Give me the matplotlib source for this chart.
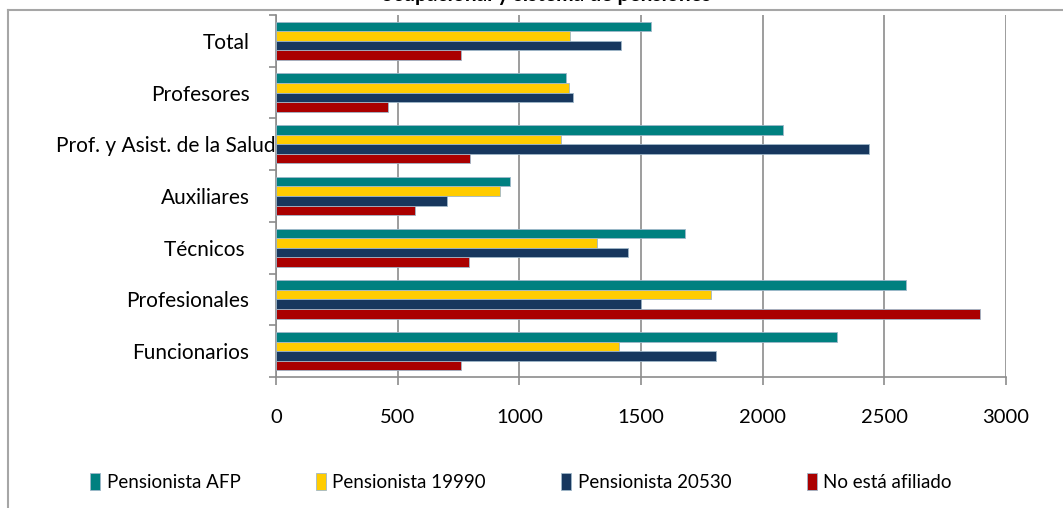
import matplotlib.pyplot as plt
import matplotlib.transforms as mtransforms
from matplotlib.lines import Line2D
import numpy as np

plt.rcParams['font.family'] = ['Lato', 'DejaVu Sans']

categorias = ['Funcionarios', 'Profesionales', 'Técnicos ', 'Auxiliares',
              'Prof. y Asist. de la Salud', 'Profesores', 'Total']
afp = [2305, 2590, 1680, 962, 2082, 1193, 1540]
p19990 = [1410, 1789, 1320, 920, 1172, 1203, 1208]
p20530 = [1810, 1498, 1448, 703, 2435, 1222, 1419]
no_afiliado = [759, 2895, 793, 573, 799, 460, 759]

series = [('Pensionista AFP', afp, '#008080'),
          ('Pensionista 19990', p19990, '#FFCC00'),
          ('Pensionista 20530', p20530, '#17375E'),
          ('No está afiliado', no_afiliado, '#AA0000')]

fig = plt.figure(figsize=(10.63, 5.08), dpi=100)
ax = fig.add_axes([276 / 1063, 1 - 377 / 508, 730 / 1063, 362 / 508])

y = np.arange(len(categorias))
h = 0.185
offs = [1.5, 0.5, -0.5, -1.5]
for (nombre, vals, col), o in zip(series, offs):
    ax.barh(y + o * h, vals, height=h, color=col, edgecolor='#9fb7c9',
            linewidth=0.6, label=nombre, zorder=3)

ax.set_xlim(0, 3000)
ax.set_ylim(-0.5, len(categorias) - 0.5)
ax.set_xticks(np.arange(0, 3001, 500))
ax.xaxis.grid(True, color='#8c8c8c', linewidth=1.2, zorder=0)

ax.set_yticks(np.arange(-0.5, len(categorias), 1))
ax.set_yticklabels([])
ax.set_yticks(y, minor=True)
ax.set_yticklabels(categorias, minor=True, fontsize=15)
ax.tick_params(axis='y', which='major', length=5, color='#8c8c8c', width=1.2)
ax.tick_params(axis='y', which='minor', length=0, pad=19)
ax.tick_params(axis='x', length=6, color='#8c8c8c', width=1.2, pad=17,
               labelsize=14.5)

for lab in ax.get_yticklabels(minor=True):
    if lab.get_text().startswith('Prof. y'):
        lab.set_transform(lab.get_transform() +
                          mtransforms.ScaledTranslation(26 / 100, 0, fig.dpi_scale_trans))

for s in ['top', 'right']:
    ax.spines[s].set_visible(False)
for s in ['left', 'bottom']:
    ax.spines[s].set_color('#8c8c8c')
    ax.spines[s].set_linewidth(1.2)

fig.legend(loc='center', bbox_to_anchor=(0.49, 1 - 482 / 508), ncol=4,
           frameon=False, fontsize=13.5, handlelength=0.55, handleheight=1.0,
           handletextpad=0.35, columnspacing=4.0)

# marco exterior del gráfico
fig.add_artist(Line2D([8 / 1063, 1], [1 - 10 / 508, 1 - 10 / 508],
                      transform=fig.transFigure, color='#a6a6a6', linewidth=1.5))
fig.add_artist(Line2D([8 / 1063, 8 / 1063], [0, 1 - 10 / 508],
                      transform=fig.transFigure, color='#a6a6a6', linewidth=1.5))

fig.text(546 / 1063, 1 + 5 / 508, 'ocupacional y sistema de pensiones',
         ha='center', va='center', fontsize=15, fontweight='bold')

fig.savefig('out.png', dpi=100)
